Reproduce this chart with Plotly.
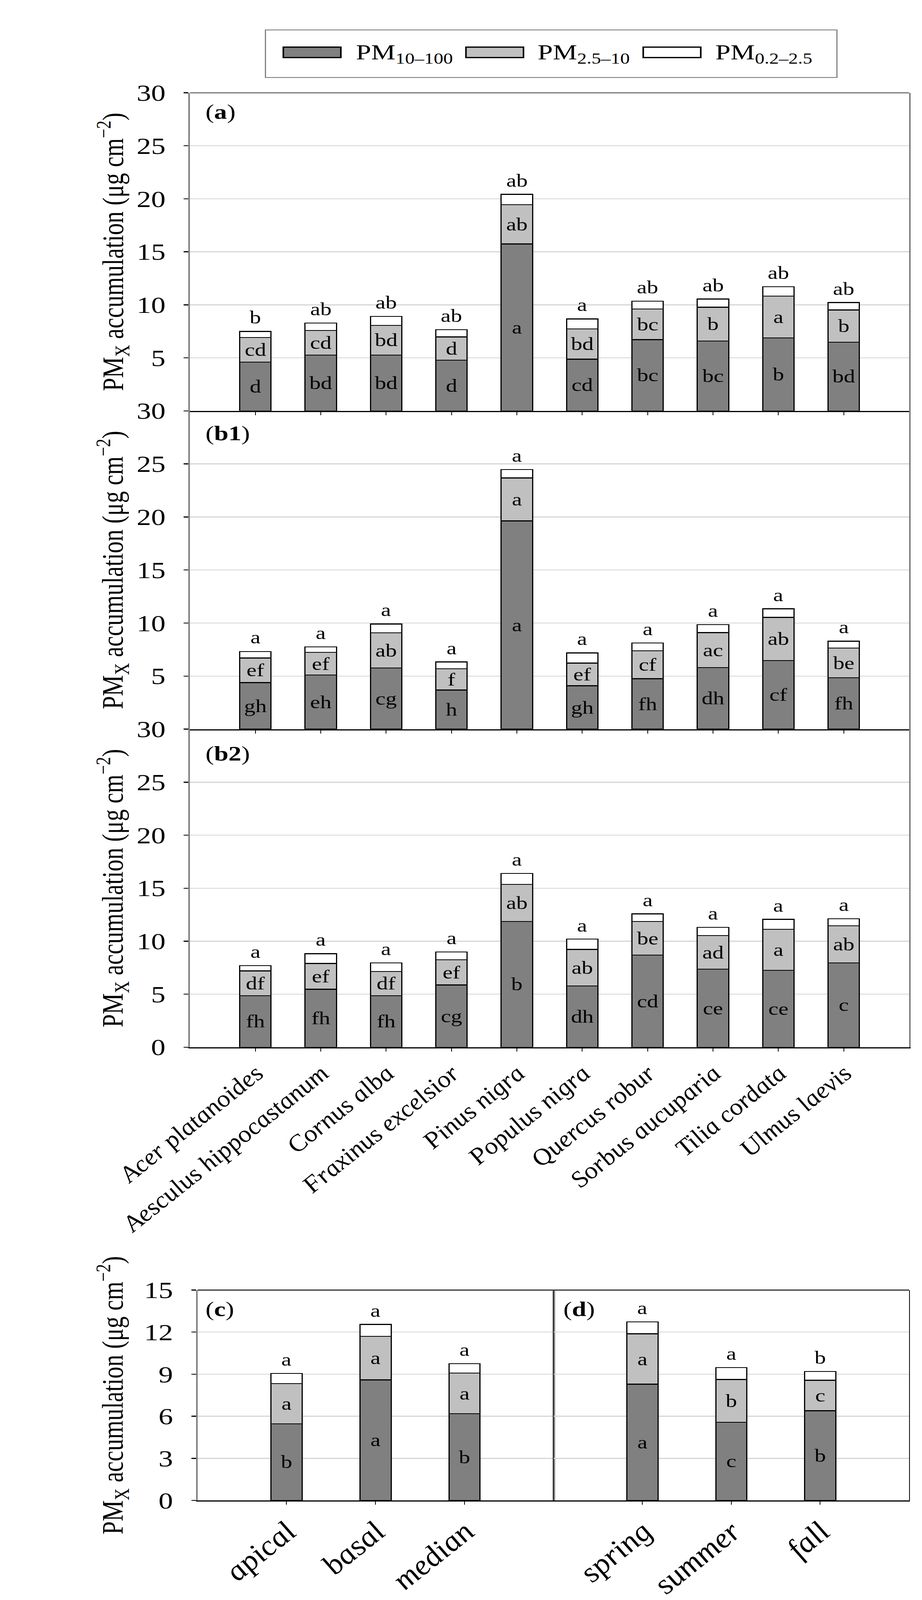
import plotly.graph_objects as go

W, H = 2360, 5134

species = ["Acer platanoides", "Aesculus hippocastanum", "Cornus alba", "Fraxinus excelsior",
           "Pinus nigra", "Populus nigra", "Quercus robur", "Sorbus aucuparia",
           "Tilia cordata", "Ulmus laevis"]
positions = ["apical", "basal", "median"]
seasons = ["spring", "summer", "fall"]
series_names = ["PM<sub>10–100</sub>", "PM<sub>2.5–10</sub>", "PM<sub>0.2–2.5</sub>"]
series_colors = ["#808080", "#c0c0c0", "#ffffff"]

# panel (a)
a_large = [4.60, 5.27, 5.27, 4.77, 15.74, 4.87, 6.72, 6.58, 6.88, 6.48]
a_coarse = [2.31, 2.32, 2.80, 2.21, 3.70, 2.86, 2.88, 3.19, 3.94, 3.04]
a_fine = [0.58, 0.68, 0.84, 0.68, 0.98, 0.94, 0.75, 0.77, 0.88, 0.69]
a_lab_large = ["d", "bd", "bd", "d", "a", "cd", "bc", "bc", "b", "bd"]
a_lab_coarse = ["cd", "cd", "bd", "d", "ab", "bd", "bc", "b", "a", "b"]
a_lab_fine = ["b", "ab", "ab", "ab", "ab", "a", "ab", "ab", "ab", "ab"]

# panel (b1)
b1_large = [4.39, 5.10, 5.76, 3.68, 19.63, 4.09, 4.75, 5.80, 6.47, 4.84]
b1_coarse = [2.32, 2.14, 3.31, 2.02, 4.04, 2.14, 2.63, 3.30, 4.06, 2.80]
b1_fine = [0.61, 0.51, 0.84, 0.63, 0.79, 0.95, 0.75, 0.75, 0.81, 0.65]
b1_lab_large = ["gh", "eh", "cg", "h", "a", "gh", "fh", "dh", "cf", "fh"]
b1_lab_coarse = ["ef", "ef", "ab", "f", "a", "ef", "cf", "ac", "ab", "be"]
b1_lab_fine = ["a", "a", "a", "a", "a", "a", "a", "a", "a", "a"]

# panel (b2)
b2_large = [4.86, 5.47, 4.86, 5.87, 11.86, 5.77, 8.68, 7.35, 7.26, 7.96]
b2_coarse = [2.33, 2.43, 2.29, 2.37, 3.50, 3.45, 3.18, 3.19, 3.85, 3.49]
b2_fine = [0.50, 0.92, 0.81, 0.74, 1.04, 0.97, 0.71, 0.77, 0.95, 0.67]
b2_lab_large = ["fh", "fh", "fh", "cg", "b", "dh", "cd", "ce", "ce", "c"]
b2_lab_coarse = ["df", "ef", "df", "ef", "ab", "ab", "be", "ad", "a", "ab"]
b2_lab_fine = ["a", "a", "a", "a", "a", "a", "a", "a", "a", "a"]

# panel (c)
c_large = [5.47, 8.60, 6.19]
c_coarse = [2.86, 3.10, 2.89]
c_fine = [0.73, 0.85, 0.67]
c_lab_large = ["b", "a", "b"]
c_lab_coarse = ["a", "a", "a"]
c_lab_fine = ["a", "a", "a"]

# panel (d)
d_large = [8.29, 5.58, 6.40]
d_coarse = [3.59, 3.04, 2.17]
d_fine = [0.85, 0.85, 0.62]
d_lab_large = ["a", "c", "b"]
d_lab_coarse = ["a", "b", "c"]
d_lab_fine = ["a", "a", "b"]

FONT = "Liberation Serif"
GRID = "#d6d6d6"
AXG = "#808080"


def py(px):
    return 1 - px / H


def px_(x):
    return x / W


fig = go.Figure()
annotations = []

panels = [
    ("a", "x", "y", species, (a_large, a_coarse, a_fine), (a_lab_large, a_lab_coarse, a_lab_fine), 0.48),
    ("b1", "x2", "y2", species, (b1_large, b1_coarse, b1_fine), (b1_lab_large, b1_lab_coarse, b1_lab_fine), 0.48),
    ("b2", "x3", "y3", species, (b2_large, b2_coarse, b2_fine), (b2_lab_large, b2_lab_coarse, b2_lab_fine), 0.48),
    ("c", "x4", "y4", positions, (c_large, c_coarse, c_fine), (c_lab_large, c_lab_coarse, c_lab_fine), 0.35),
    ("d", "x5", "y5", seasons, (d_large, d_coarse, d_fine), (d_lab_large, d_lab_coarse, d_lab_fine), 0.35),
]

for pname, xa, ya, cats, series, labels, bw in panels:
    for i in range(3):
        fig.add_trace(go.Bar(
            x=cats, y=series[i], name=series_names[i], xaxis=xa, yaxis=ya,
            width=bw, showlegend=False,
            marker=dict(color=series_colors[i], line=dict(color="black", width=3)),
            text=labels[i] if i < 2 else None,
            textposition="inside" if i < 2 else "none",
            insidetextanchor="middle",
            textangle=0,
            constraintext="none",
            cliponaxis=False,
            textfont=dict(family=FONT, size=58, color="black"),
        ))
    # letters above each stacked bar
    for j, cat in enumerate(cats):
        total = series[0][j] + series[1][j] + series[2][j]
        annotations.append(dict(xref=xa, yref=ya, x=cat, y=total, yanchor="bottom",
                                yshift=10, showarrow=False, text=labels[2][j],
                                font=dict(family=FONT, size=58, color="black")))

x_top = [px_(312), px_(2324)]
y_a = [py(1299), py(262)]
y_b1 = [py(2337), py(1299)]
y_b2 = [py(3374), py(2337)]
y_cd = [py(4852), py(4166)]
x_c = [px_(333), px_(1329)]
x_d = [px_(1329), px_(2324)]

tickfont = dict(family=FONT, size=74, color="black")


def xaxis_cfg(domain, anchor, rng, show_labels, lab_size):
    return dict(
        domain=domain, anchor=anchor, type="category", range=rng,
        showline=True, linecolor="black", linewidth=4,
        ticks="outside", ticklen=10, tickwidth=2, tickcolor="black",
        showticklabels=show_labels, tickangle=-45,
        tickfont=dict(family=FONT, size=lab_size, color="black", style="italic"),
        showgrid=False, zeroline=False, fixedrange=True,
    )


def yaxis_cfg(domain, anchor, rng, tickvals, showlabels=True):
    return dict(
        domain=domain, anchor=anchor, range=rng,
        tickvals=tickvals, ticktext=[str(v) for v in tickvals],
        showline=True, linecolor=AXG, linewidth=4, mirror=True,
        ticks="outside" if showlabels else "", ticklen=12, tickwidth=3, tickcolor="black",
        showticklabels=showlabels, tickfont=tickfont, ticklabelstandoff=32,
        showgrid=True, gridcolor=GRID, gridwidth=3, zeroline=False, fixedrange=True,
    )


fig.update_layout(
    width=W, height=H, autosize=False,
    margin=dict(l=0, r=0, t=0, b=0),
    paper_bgcolor="white", plot_bgcolor="white",
    barmode="stack",
    xaxis=xaxis_cfg(x_top, "y", [-1, 10], False, 72),
    yaxis=yaxis_cfg(y_a, "x", [0, 30], [5, 10, 15, 20, 25, 30]),
    xaxis2=xaxis_cfg(x_top, "y2", [-1, 10], False, 72),
    yaxis2=yaxis_cfg(y_b1, "x2", [0, 30], [5, 10, 15, 20, 25, 30]),
    xaxis3=xaxis_cfg(x_top, "y3", [-1, 10], True, 72),
    yaxis3=yaxis_cfg(y_b2, "x3", [0, 30], [0, 5, 10, 15, 20, 25, 30]),
    xaxis4=xaxis_cfg(x_c, "y4", [-1, 3], True, 88),
    yaxis4=yaxis_cfg(y_cd, "x4", [0, 15], [0, 3, 6, 9, 12, 15]),
    xaxis5=xaxis_cfg(x_d, "y5", [-1, 3], True, 88),
    yaxis5=yaxis_cfg(y_cd, "x5", [0, 15], [0, 3, 6, 9, 12, 15], showlabels=False),
)
fig.update_layout(yaxis5=dict(linecolor="black", linewidth=2))

shapes = []
shapes.append(dict(type="line", xref="x domain", yref="y domain", x0=0, x1=1, y0=1, y1=1,
                   line=dict(color=AXG, width=4)))
shapes.append(dict(type="line", xref="x4 domain", yref="y4 domain", x0=0, x1=1, y0=1, y1=1,
                   line=dict(color="#404040", width=4)))
shapes.append(dict(type="line", xref="x5 domain", yref="y5 domain", x0=0, x1=1, y0=1, y1=1,
                   line=dict(color="#404040", width=4)))

# legend box
shapes.append(dict(type="rect", xref="paper", yref="paper",
                   x0=px_(523), x1=px_(2122), y0=py(212), y1=py(57),
                   line=dict(color=AXG, width=3), fillcolor="white"))
sw_x = [573, 1084, 1580]
tx_x = [774, 1282, 1780]
for i in range(3):
    shapes.append(dict(type="rect", xref="paper", yref="paper",
                       x0=px_(sw_x[i]), x1=px_(sw_x[i] + 161), y0=py(147), y1=py(113),
                       line=dict(color="black", width=4), fillcolor=series_colors[i]))
    annotations.append(dict(xref="paper", yref="paper", x=px_(tx_x[i]), y=py(134),
                            xanchor="left", yanchor="middle", showarrow=False,
                            text=series_names[i],
                            font=dict(family=FONT, size=70, color="black")))

ytitle = "PM<sub>X</sub> accumulation (μg cm<sup>−2</sup>)"
for yd in ["y", "y2", "y3", "y4"]:
    annotations.append(dict(xref="paper", yref=yd + " domain", x=px_(96), y=0.5,
                            xanchor="center", yanchor="middle", textangle=-90, showarrow=False,
                            text=ytitle, font=dict(family=FONT, size=76, color="black")))

panel_tags = [("x", "y", "(<b>a</b>)", 0.0204, 1 - 62 / 1037),
              ("x2", "y2", "(<b>b1</b>)", 0.0204, 1 - 74 / 1038),
              ("x3", "y3", "(<b>b2</b>)", 0.0204, 1 - 80 / 1037),
              ("x4", "y4", "(<b>c</b>)", 0.020, 1 - 63 / 686),
              ("x5", "y5", "(<b>d</b>)", 0.026, 1 - 63 / 686)]
for xa, ya, t, xx, yy in panel_tags:
    annotations.append(dict(xref=xa + " domain", yref=ya + " domain", x=xx, y=yy,
                            xanchor="left", yanchor="middle", showarrow=False, text=t,
                            font=dict(family=FONT, size=66, color="black")))

fig.update_layout(shapes=shapes, annotations=annotations)

# keep the whole 2360x5134 figure inside the browser window, flush to its corner
post = """
(function(){
  document.documentElement.style.margin = '0';
  document.body.style.margin = '0';
  document.body.style.overflow = 'hidden';
  var gd = document.getElementById('{plot_id}');
  var h = window.innerHeight;
  if (h > 500 && h < %d) {
    var s = h / %d;
    gd.style.transformOrigin = '0 0';
    gd.style.transform = 'scale(1,' + s + ')';
  }
})();
""" % (H, H)

fig.write_html("out.html", post_script=post,
               config={"displayModeBar": False, "staticPlot": True})
